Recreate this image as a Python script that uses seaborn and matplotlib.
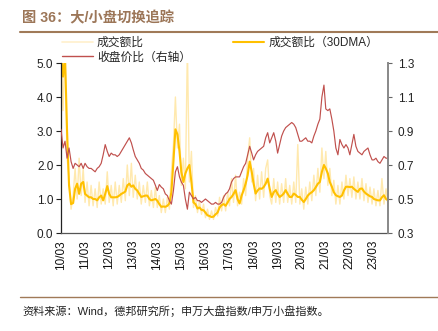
import matplotlib
matplotlib.use("Agg")
import matplotlib.pyplot as plt
import matplotlib.dates as mdates
from matplotlib.lines import Line2D
from matplotlib.ticker import FormatStrFormatter
import pandas as pd
import seaborn as sns

# Monthly observations, 2010-03 .. 2023-10
months = pd.date_range("2010-03-01", periods=164, freq="MS")

# Turnover ratio (large cap / small cap), raw
turnover_raw = [
    5.5, 3.6, 5.5, 2.2, 1.6, 0.7, 1.1, 1.9, 1.0, 2.2, 1.1, 1.9, 0.9, 1.5, 0.8, 1.4,
    0.8, 1.3, 0.75, 1.5, 0.85, 1.3, 0.85, 1.8, 0.9, 1.4, 0.8, 1.5, 0.85, 1.4, 0.9, 1.6,
    0.95, 2.0, 1.1, 2.05, 1.05, 1.7, 1.0, 1.5, 0.85, 1.4, 0.9, 1.5, 0.8, 1.25, 0.75, 1.35,
    0.75, 1.1, 0.6, 1.0, 0.6, 1.05, 0.7, 1.8, 2.6, 4.0, 2.5, 3.2, 1.4, 2.2, 1.3, 5.5,
    1.5, 2.4, 0.75, 1.1, 0.6, 0.95, 0.55, 0.85, 0.45, 0.7, 0.4, 0.65, 0.4, 0.75, 0.5, 1.05,
    0.65, 1.1, 0.65, 1.2, 0.8, 1.6, 0.9, 1.7, 0.8, 1.2, 0.85, 1.6, 1.1, 2.2, 2.8, 1.5,
    1.9, 0.95, 1.7, 1.0, 1.8, 1.05, 1.9, 2.15, 1.1, 0.85, 1.6, 0.9, 1.5, 0.85, 1.45, 0.9,
    1.6, 0.9, 1.4, 0.85, 1.5, 0.9, 2.6, 0.85, 1.3, 0.7, 1.35, 0.85, 1.5, 0.95, 1.7, 1.1,
    1.9, 1.2, 2.5, 1.6, 2.4, 1.4, 1.9, 1.1, 1.55, 0.85, 1.4, 0.85, 1.5, 1.0, 1.7, 1.1,
    1.6, 1.05, 1.65, 1.0, 1.5, 1.0, 1.6, 0.95, 1.45, 0.9, 1.35, 0.85, 1.3, 0.8, 1.25, 0.8,
    1.6, 0.85, 1.3, 0.8,
]

# Turnover ratio, 30-day moving average
turnover_ma30 = [
    5.3, 4.6, 5.2, 3.0, 1.4, 0.85, 0.88, 1.3, 1.45, 1.15, 1.45, 1.5, 1.15, 1.1, 1.05, 1.05,
    1.0, 1.0, 0.96, 1.05, 1.1, 0.96, 1.15, 1.38, 1.15, 1.05, 1.05, 1.05, 1.06, 1.1, 1.15, 1.18,
    1.22, 1.4, 1.45, 1.36, 1.4, 1.3, 1.25, 1.15, 1.06, 1.08, 1.1, 1.1, 1.0, 0.96, 0.98, 1.0,
    0.95, 0.85, 0.77, 0.78, 0.77, 0.8, 0.87, 1.2, 2.1, 3.05, 2.9, 2.4, 1.8, 1.5, 1.75, 1.9,
    2.0, 1.5, 0.9, 0.85, 0.72, 0.75, 0.68, 0.67, 0.6, 0.52, 0.5, 0.47, 0.48, 0.55, 0.6, 0.75,
    0.82, 0.85, 0.8, 0.9, 1.0, 1.06, 1.15, 1.26, 1.0, 0.87, 1.1, 1.26, 1.45, 1.7, 2.1, 1.8,
    1.46, 1.16, 1.25, 1.31, 1.3, 1.35, 1.45, 1.6, 1.3, 1.06, 1.2, 1.26, 1.15, 1.06, 1.1, 1.16,
    1.26, 1.15, 1.06, 1.06, 1.16, 1.12, 1.06, 1.06, 0.98, 0.91, 1.0, 1.1, 1.16, 1.2, 1.26, 1.35,
    1.45, 1.5, 1.8, 2.0, 1.9, 1.75, 1.5, 1.36, 1.2, 1.11, 1.08, 1.06, 1.1, 1.25, 1.36, 1.36,
    1.35, 1.36, 1.3, 1.25, 1.21, 1.3, 1.31, 1.22, 1.16, 1.12, 1.08, 1.06, 1.0, 0.98, 0.96, 0.96,
    1.05, 1.11, 1.0, 0.96,
]

# Close price ratio (right axis)
close_ratio = [
    0.91, 0.80, 0.84, 0.74, 0.80, 0.72, 0.68, 0.71, 0.70, 0.69, 0.71, 0.68, 0.71, 0.69, 0.68, 0.68,
    0.67, 0.66, 0.68, 0.69, 0.71, 0.76, 0.82, 0.78, 0.75, 0.77, 0.76, 0.76, 0.75, 0.76, 0.78, 0.80,
    0.82, 0.84, 0.86, 0.83, 0.79, 0.75, 0.73, 0.71, 0.68, 0.67, 0.65, 0.64, 0.63, 0.62, 0.61, 0.58,
    0.55, 0.585, 0.57, 0.56, 0.53, 0.52, 0.49, 0.47, 0.55, 0.66, 0.69, 0.63, 0.60, 0.58, 0.50, 0.44,
    0.54, 0.52, 0.50, 0.51, 0.49, 0.49, 0.48, 0.49, 0.50, 0.49, 0.48, 0.47, 0.47, 0.48, 0.47, 0.47,
    0.48, 0.51, 0.53, 0.54, 0.56, 0.60, 0.62, 0.63, 0.63, 0.63, 0.66, 0.69, 0.71, 0.76, 0.81, 0.77,
    0.73, 0.76, 0.78, 0.79, 0.80, 0.81, 0.86, 0.89, 0.83, 0.86, 0.89, 0.84, 0.77, 0.82, 0.87, 0.90,
    0.92, 0.93, 0.94, 0.95, 0.94, 0.92, 0.88, 0.84, 0.84, 0.85, 0.86, 0.84, 0.84, 0.83, 0.87, 0.90,
    0.94, 0.97, 1.10, 1.17, 1.03, 1.02, 1.03, 0.97, 0.90, 0.80, 0.76, 0.85, 0.82, 0.80, 0.82, 0.80,
    0.76, 0.82, 0.88, 0.81, 0.78, 0.77, 0.76, 0.78, 0.79, 0.80, 0.76, 0.73, 0.73, 0.74, 0.72, 0.71,
    0.73, 0.75, 0.74, 0.74,
]

tick_years = list(range(2010, 2024))
left_ticks = [0.0, 1.0, 2.0, 3.0, 4.0, 5.0]
right_ticks = [0.3, 0.5, 0.7, 0.9, 1.1, 1.3]

labels = ["成交额比", "成交额比（30DMA）", "收盘价比（右轴）"]
colors = ["#FFE9AE", "#FFC000", "#C0504D"]

df = pd.DataFrame({
    "date": months,
    "raw": turnover_raw,
    "ma30": turnover_ma30,
    "close": close_ratio,
})

sns.set_style("white")
plt.rcParams["font.family"] = ["Liberation Sans", "Noto Sans CJK SC", "DejaVu Sans"]

fig = plt.figure(figsize=(4.38, 3.31), dpi=100)
ax = fig.add_axes([61 / 438, 1 - 233 / 331, (388 - 61) / 438, (233 - 63) / 331])
ax2 = ax.twinx()

sns.lineplot(data=df, x="date", y="raw", ax=ax, color=colors[0], linewidth=1.0)
sns.lineplot(data=df, x="date", y="ma30", ax=ax, color=colors[1], linewidth=1.5)
sns.lineplot(data=df, x="date", y="close", ax=ax2, color=colors[2], linewidth=0.85)

ax.set_xlim(pd.Timestamp("2010-03-01"), pd.Timestamp("2023-10-01"))
ax.set_ylim(0, 5)
ax2.set_ylim(0.3, 1.3)
ax.set_yticks(left_ticks)
ax2.set_yticks(right_ticks)
ax.yaxis.set_major_formatter(FormatStrFormatter("%.1f"))
ax2.yaxis.set_major_formatter(FormatStrFormatter("%.1f"))
ax.set_xticks([pd.Timestamp(f"{y}-03-01") for y in tick_years])
ax.xaxis.set_major_formatter(mdates.DateFormatter("%y/%m"))
for a in (ax, ax2):
    a.set_xlabel("")
    a.set_ylabel("")
    a.grid(False)

tick_fs = 8.5
ax.tick_params(axis="x", rotation=90, labelsize=tick_fs, length=3, width=0.8,
               direction="out", colors="#222222", pad=2)
ax.tick_params(axis="y", labelsize=tick_fs, length=3.5, width=0.8,
               direction="out", colors="#222222", pad=2)
ax2.tick_params(axis="y", labelsize=tick_fs, length=3, width=0.8,
                direction="out", colors="#222222", pad=4)
for lbl in ax.get_xticklabels():
    lbl.set_color("#111111")

ax.spines["top"].set_visible(False)
ax2.spines["top"].set_visible(False)
ax.spines["right"].set_visible(False)
ax2.spines["left"].set_visible(False)
ax2.spines["bottom"].set_visible(False)
ax.spines["left"].set_color("#222222")
ax.spines["left"].set_linewidth(0.9)
ax.spines["bottom"].set_color("#555555")
ax.spines["bottom"].set_linewidth(0.9)
ax2.spines["right"].set_color("#888888")
ax2.spines["right"].set_linewidth(1.4)
ax2.tick_params(axis="y", color="#666666")

handles = [
    Line2D([], [], color="#FFF0CC", linewidth=1.2),
    Line2D([], [], color=colors[2], linewidth=1.0),
    Line2D([], [], color=colors[1], linewidth=1.5),
]
fig.legend(handles, [labels[0], labels[2], labels[1]], ncol=2,
           loc="upper left", bbox_to_anchor=(62 / 438, 1 - 37 / 331),
           frameon=False, fontsize=8.5, handlelength=2.6, handletextpad=0.35,
           columnspacing=3.6, labelspacing=0.22, borderpad=0, borderaxespad=0)

brown = "#A07A58"
fig.text(22 / 438, 1 - 18 / 331, "图 36：大/小盘切换追踪", fontsize=10.3,
         fontweight="bold", color="#9C7658", va="center", ha="left")
fig.add_artist(Line2D([20 / 438, 1.0], [1 - 31.5 / 331] * 2, color=brown, linewidth=1.5))
fig.add_artist(Line2D([20 / 438, 1.0], [1 - 297 / 331] * 2, color=brown, linewidth=1.0))
fig.text(22 / 438, 1 - 311 / 331, "资料来源：Wind，德邦研究所；申万大盘指数/申万小盘指数。",
         fontsize=8.0, color="#222222", va="center", ha="left")

fig.savefig("out.png", dpi=100, facecolor="white")
